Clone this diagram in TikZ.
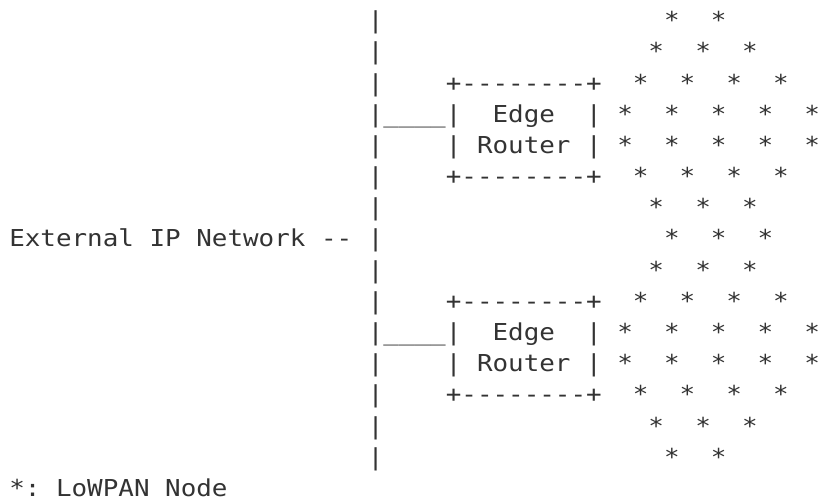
\documentclass[tikz,border=0pt]{standalone}
\usepackage{fontspec}
\usepackage{graphicx}
\setmonofont{DejaVu Sans Mono}
\definecolor{ink}{gray}{0.2}
% widen the monospace cells to the character grid used below
\newcommand{\cellrow}[1]{\scalebox{1.1114}[1]{#1}}

\begin{document}
\begin{tikzpicture}[x=15.59pt, y=-31.17pt,
  txt/.style={inner sep=0pt, outer sep=0pt, anchor=base west, text=ink,
    font=\ttfamily\fontsize{23.3pt}{31pt}\selectfont}]
\useasboundingbox (-0.5965,-0.924) rectangle (51.937,15.053);

% backbone of the external IP network
\foreach \r in {0,...,14}
  \node[txt] (bus\r) at (23,\r) {\cellrow{|}};
\node[txt] (ext) at (0,7) {\cellrow{External~IP~Network~--}};

% links from the backbone to the edge routers
\node[txt] (tapA) at (24,3) {\cellrow{\_\_\_\_}};
\node[txt] (tapB) at (24,10) {\cellrow{\_\_\_\_}};

% first edge router
\node[txt] (boxAtop) at (28,2) {\cellrow{+--------+}};
\node[txt] (boxAl1)  at (28,3) {\cellrow{|~~Edge~~|}};
\node[txt] (boxAl2)  at (28,4) {\cellrow{|~Router~|}};
\node[txt] (boxAbot) at (28,5) {\cellrow{+--------+}};

% second edge router
\node[txt] (boxBtop) at (28,9)  {\cellrow{+--------+}};
\node[txt] (boxBl1)  at (28,10) {\cellrow{|~~Edge~~|}};
\node[txt] (boxBl2)  at (28,11) {\cellrow{|~Router~|}};
\node[txt] (boxBbot) at (28,12) {\cellrow{+--------+}};

% LoWPAN nodes: row / first column / count
\foreach \r/\c/\n in {0/42/2, 1/41/3, 2/40/4, 3/39/5, 4/39/5, 5/40/4, 6/41/3,
                      7/42/3, 8/41/3, 9/40/4, 10/39/5, 11/39/5, 12/40/4,
                      13/41/3, 14/42/2}
  \foreach \k in {1,...,\n} {
    \pgfmathtruncatemacro\cc{\c+3*(\k-1)}
    \node[txt] (s\r-\cc) at (\cc,\r) {\cellrow{*}};
  }

% legend
\node[txt] (key) at (0,15) {\cellrow{*:~LoWPAN~Node}};
\end{tikzpicture}
\end{document}
